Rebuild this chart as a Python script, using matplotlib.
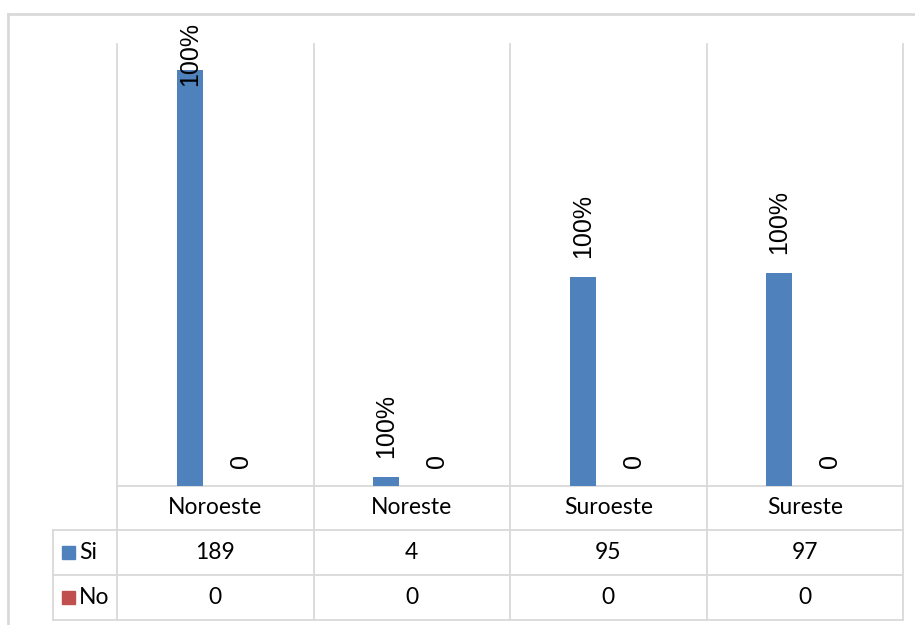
import matplotlib.pyplot as plt
from matplotlib.patches import Rectangle
from matplotlib.lines import Line2D
from matplotlib.transforms import blended_transform_factory

# regional counts
regions = ['Noroeste', 'Noreste', 'Suroeste', 'Sureste']
si_vals = [189, 4, 95, 97]
no_vals = [0, 0, 0, 0]
si_labels = ['100%', '100%', '100%', '100%']
no_labels = ['0', '0', '0', '0']
series = ['Si', 'No']

blue = '#4F81BD'
red = '#C0504D'
grid = '#D9D9D9'

W, H = 915, 625
fig = plt.figure(figsize=(W / 100, H / 100), dpi=100)

def fx(px):
    return px / W

def fy(py):
    return 1 - py / H

# plot area in pixels
left, right, top, bottom = 117, 903, 44, 486
ax = fig.add_axes([fx(left), fy(bottom), fx(right - left), (bottom - top) / H])

x = list(range(len(regions)))
off = 0.13
bw = 0.133
ax.bar([i - off for i in x], si_vals, bw, color=blue, zorder=3)
ax.bar([i + off for i in x], no_vals, bw, color=red, zorder=3)
ax.set_xlim(-0.5, len(regions) - 0.5)
ax.set_ylim(0, 201)
ax.axis('off')

# category separators running through the table
bt = blended_transform_factory(ax.transData, ax.transAxes)
row_px = [486, 530, 575, 620]
row_ax = [(bottom - r) / (bottom - top) for r in row_px]
for b in [i - 0.5 for i in range(len(regions) + 1)]:
    ax.add_line(Line2D([b, b], [1, row_ax[-1]], transform=bt, color=grid,
                       lw=1.3, clip_on=False, zorder=1))

# table rows
px_per_unit = (right - left) / len(regions)
lab_left = -0.5 - (left - 53) / px_per_unit
ax.add_line(Line2D([-0.5, len(regions) - 0.5], [0, 0], transform=bt,
                   color=grid, lw=1.3, clip_on=False, zorder=1))
for r in row_ax[1:]:
    ax.add_line(Line2D([lab_left, len(regions) - 0.5], [r, r], transform=bt,
                       color=grid, lw=1.3, clip_on=False, zorder=1))
ax.add_line(Line2D([lab_left, lab_left], [row_ax[1], row_ax[-1]], transform=bt,
                   color=grid, lw=1.3, clip_on=False, zorder=1))

tfont = dict(family='Lato', fontsize=16.5, color='#000000')
hdr_y = (row_ax[0] + row_ax[1]) / 2
si_y = (row_ax[1] + row_ax[2]) / 2
no_y = (row_ax[2] + row_ax[3]) / 2
for i, name in enumerate(regions):
    ax.text(i, hdr_y, name, transform=bt, ha='center', va='center', **tfont)
    ax.text(i, si_y, str(si_vals[i]), transform=bt, ha='center', va='center', **tfont)
    ax.text(i, no_y, str(no_vals[i]), transform=bt, ha='center', va='center', **tfont)

# legend keys in the first column
for name, col, yy in zip(series, [blue, red], [si_y, no_y]):
    ax.add_patch(Rectangle((-0.5 - (left - 62) / px_per_unit, yy - 6.5 / (bottom - top)),
                           13 / px_per_unit, 13 / (bottom - top), transform=bt,
                           color=col, clip_on=False))
    ax.text(-0.5 - (left - 79) / px_per_unit, yy, name, transform=bt,
            ha='left', va='center', **tfont)

# data labels above the bars, kept inside the chart area
lfont = dict(family='Liberation Sans', fontsize=18, rotation=90, color='#000000')
fig.canvas.draw()
top_limit = H - 22
for i in x:
    xs, ys = ax.transData.transform((i - off, si_vals[i]))
    lb = ys + 19
    if lb + 65 > top_limit:
        fig.text(xs / W, top_limit / H, si_labels[i], ha='center', va='top', **lfont)
    else:
        fig.text(xs / W, lb / H, si_labels[i], ha='center', va='bottom', **lfont)
    xs, ys = ax.transData.transform((i + off, no_vals[i]))
    fig.text(xs / W, (ys + 18) / H, no_labels[i], ha='center', va='bottom', **lfont)

# chart area border
fig.add_artist(Line2D([fx(8), 1], [fy(14), fy(14)], color=grid, lw=2))
fig.add_artist(Line2D([fx(8), fx(8)], [fy(14), 0], color=grid, lw=2))

fig.savefig('out.png', dpi=100, facecolor='white')
